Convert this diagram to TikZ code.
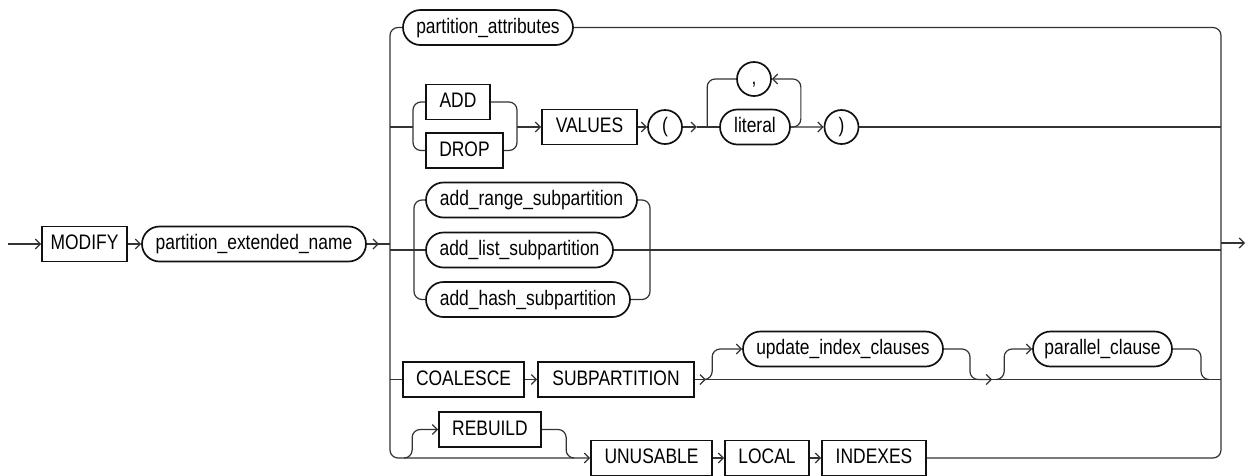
\documentclass[tikz,border=0pt]{standalone}
\usepackage{fontspec}
\setmainfont[FakeStretch=0.83]{Liberation Sans}
\usetikzlibrary{arrows.meta,shapes.misc}
\definecolor{railline}{HTML}{333333}
\definecolor{boxline}{HTML}{111111}
\tikzset{
  rr/.style={font=\fontsize{21}{25}\selectfont, draw=boxline, line width=1.7pt, minimum height=35pt, inner sep=0pt, text height=15pt, text depth=4pt},
  kw/.style={rr, rectangle},
  nt/.style={rr, rounded rectangle},
  sym/.style={rr, circle, minimum size=34pt},
  rail/.style={draw=railline, line width=1.2pt},
  arr/.style={rail, -{Straight Barb[length=5pt,width=10pt]}},
  railturn/.style={rounded corners=8pt}
}
\def\mainy{244}
\def\boty{458}

\begin{document}
\begin{tikzpicture}[x=1pt,y=-1pt]
\useasboundingbox (0,0) rectangle (1248,475);

% Bars
\coordinate (lb) at (390,0);
\coordinate (rb) at (1221,0);
\coordinate (start) at (8,\mainy);
\coordinate (finish) at (1245,243);

% --- Lead-in ---
\node[kw, minimum width=85]  (modify) at (84.5,\mainy) {MODIFY};
\node[nt, minimum width=224] (pename) at (254,\mainy) {partition\_extended\_name};

% --- Choices ---
\node[nt, minimum width=170] (pattr) at (488,27.5) {partition\_attributes};

\node[kw, minimum width=64] (add)     at (458,102)   {ADD};
\node[kw, minimum width=77] (drop)    at (464.5,150.5) {DROP};
\node[kw, minimum width=95] (values)  at (589.5,127) {VALUES};
\node[sym]                  (lparen)  at (665,127)   {(};
\node[nt, minimum width=70] (literal) at (755,127)   {literal};
\node[sym]                  (comma)   at (754,79)    {,};
\node[sym]                  (rparen)  at (841.5,127) {)};

\node[nt, minimum width=211] (range) at (531.5,200)  {add\_range\_subpartition};
\node[nt, minimum width=187] (list)  at (519.5,250)  {add\_list\_subpartition};
\node[nt, minimum width=204] (hash)  at (528,299.5)  {add\_hash\_subpartition};

\node[kw, minimum width=121] (coalesce) at (463.5,379.5) {COALESCE};
\node[kw, minimum width=156] (subpart)  at (616,379.5)   {SUBPARTITION};
\node[nt, minimum width=200] (update)   at (843,349)     {update\_index\_clauses};
\node[nt, minimum width=139] (parallel) at (1102.5,349)  {parallel\_clause};

\node[kw, minimum width=102] (rebuild)  at (490,429.5)   {REBUILD};
\node[kw, minimum width=121] (unusable) at (651.5,\boty) {UNUSABLE};
\node[kw, minimum width=84]  (local)    at (767,\boty)   {LOCAL};
\node[kw, minimum width=104] (indexes)  at (874,\boty)   {INDEXES};

% --- Flow ---
\draw[arr] (start) -- (modify);
\draw[arr] (modify) -- (pename);
\draw[arr] (pename.east) -- ++(12,0);
\draw[rail] (pename.east) -- (pename.east -| lb);
% outer bars
\draw[arr, railturn] (pattr.west) -| (lb |- unusable) -- (unusable.west);
\draw[rail, railturn] (pattr.east) -| (rb |- indexes) -- (indexes.east);
\draw[arr] (rb |- finish) -- (finish);

% ADD / DROP VALUES ( literal , ... )
\coordinate (adsplit) at (413,127);
\coordinate (adjoin)  at (517,127);
\draw[rail] (lb |- adsplit) -- (adsplit);
\draw[rail, railturn] (add.west) -| (adsplit |- drop) -- (drop.west);
\draw[rail, railturn] (add.east) -| (adjoin) |- (drop.east);
\draw[arr] (adjoin) -- (values);
\draw[arr] (values) -- (lparen);
\draw[arr] (lparen.east) -- ++(14,0) coordinate (litin);
\draw[rail] (litin) -- (literal);
\draw[arr, railturn] (literal.east) -- ++(10,0) |- (comma.east);
\draw[rail, railturn] (comma.west) -| ([xshift=-12pt]literal.west);
\draw[arr] (literal) -- (rparen);
\draw[rail] (rparen.east) -- (rparen.east -| rb);

% add_*_subpartition
\coordinate (sgsplit) at (414,250);
\coordinate (sgjoin)  at (650,250);
\draw[rail] (lb |- list) -- (list);
\draw[rail, railturn] (range.west) -| (sgsplit |- hash) -- (hash.west);
\draw[rail, railturn] (range.east) -| (sgjoin |- hash) -- (hash.east);
\draw[rail] (list.east) -- (list.east -| rb);

% COALESCE SUBPARTITION [update_index_clauses] [parallel_clause]
\coordinate (upjoin) at (992,379.5);
\coordinate (pjoin)  at (1201,379.5);
\draw[rail] (lb |- coalesce) -- (coalesce);
\draw[arr] (coalesce) -- (subpart);
\draw[arr] (subpart.east) -- ++(11,0) coordinate (upsplit);
\draw[rail] (upsplit) -- (upsplit -| rb);
\draw[arr, railturn] (upsplit) -| ([xshift=-30pt]update.west) -- (update.west);
\draw[arr, railturn] (update.east) -| ([xshift=-22pt]upjoin) -- (upjoin);
\draw[arr, railturn] ([xshift=5pt]upjoin) -| ([xshift=-28pt]parallel.west) -- (parallel.west);
\draw[rail, railturn] (parallel.east) -| (pjoin) -- ++(8,0);

% [REBUILD] UNUSABLE LOCAL INDEXES
\coordinate (rbsplit) at (405,\boty);
\draw[arr, railturn] (rbsplit) -| ([xshift=-26pt]rebuild.west) -- (rebuild.west);
\draw[rail, railturn] (rebuild.east) -| ([xshift=-24pt]unusable.west) -- ([xshift=-16pt]unusable.west);
\draw[arr] (unusable) -- (local);
\draw[arr] (local) -- (indexes);

\end{tikzpicture}
\end{document}
